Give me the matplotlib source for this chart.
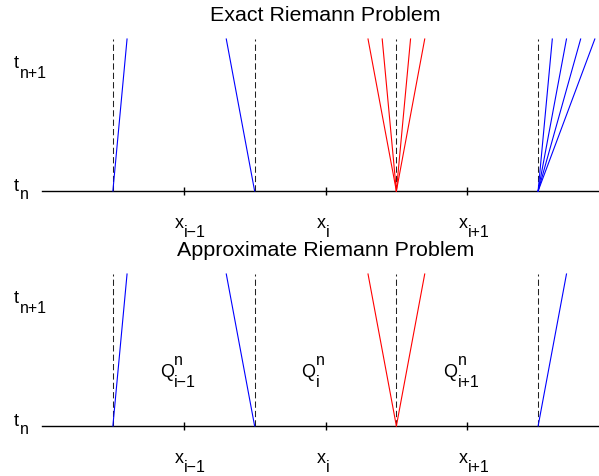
import matplotlib
matplotlib.use('Agg')
import matplotlib.pyplot as plt

plt.rcParams['font.family'] = ['Liberation Sans', 'DejaVu Sans']

# cell interfaces and cell centres (in units of dx)
interfaces = [0.5, 1.5, 2.5, 3.5]
centers = [1, 2, 3]
x_labels = ['i\u22121', 'i', 'i+1']

# wave speeds leaving each interface (dx per dt)
exact_speeds = [[0.1], [-0.2], [-0.2, -0.1, 0.1, 0.2], [0.1, 0.2, 0.3, 0.4]]
exact_colors = ['blue', 'blue', 'red', 'blue']
approx_speeds = [[0.1], [-0.2], [-0.2, 0.2], [0.2]]
approx_colors = ['blue', 'blue', 'red', 'blue']

titles = ['Exact Riemann Problem', 'Approximate Riemann Problem']

FS = 13
TFS = 15.4
SFS = 11.5

fig = plt.figure(figsize=(5.99, 4.76), dpi=100)
ax_top = fig.add_axes([42/599, 285/476, 567/599, 152/476])
ax_bot = fig.add_axes([42/599, 50/476, 567/599, 152/476])


def label(ax, x, y, base, sub=None, sup=None, dx=0.5, dsub=7.0, dsup=8.6):
    t = ax.text(x, y, base, fontsize=FS, ha='left', va='baseline', clip_on=False)
    if sub:
        ax.annotate(sub, xy=(1, y), xycoords=(t, 'data'), xytext=(dx, -dsub),
                    textcoords='offset points', fontsize=SFS, va='baseline',
                    annotation_clip=False)
    if sup:
        ax.annotate(sup, xy=(1, y), xycoords=(t, 'data'), xytext=(dx, dsup),
                    textcoords='offset points', fontsize=SFS, va='baseline',
                    annotation_clip=False)


for k, ax in enumerate([ax_top, ax_bot]):
    speeds = exact_speeds if k == 0 else approx_speeds
    colors = exact_colors if k == 0 else approx_colors
    ax.set_xlim(0, 4)
    ax.set_ylim(0, 1)
    ax.axis('off')

    ax.plot([0, 4], [0, 0], color='black', lw=1.0, clip_on=False)
    ax.plot(centers, [0]*len(centers), ls='none', marker='|', ms=6,
            mew=1.0, color='black', clip_on=False)

    for xi, sp, col in zip(interfaces, speeds, colors):
        ax.plot([xi, xi], [0, 1], color='#222222', lw=0.75,
                ls=(0, (6, 3)), clip_on=False)
        for s in sp:
            ax.plot([xi, xi + s], [0, 1], color=col, lw=0.8, clip_on=False)

    label(ax, -0.2, 0.81, 't', sub='n+1', dx=1.0, dsub=7.2)
    label(ax, -0.2, 0.0, 't', sub='n', dx=1.0, dsub=6.0)

    for c, lab in zip(centers, x_labels):
        label(ax, c - 0.06, -0.243, 'x', sub=lab, dx=0.0, dsub=6.5)
        if k == 1:
            label(ax, c - 0.17, 0.322, 'Q', sub=lab, sup='n', dx=0.3,
                  dsub=7.2, dsup=8.6)

    ax.text(2, 1.118, titles[k], fontsize=TFS, ha='center', va='baseline',
            clip_on=False)

fig.savefig('out.png', dpi=100)
